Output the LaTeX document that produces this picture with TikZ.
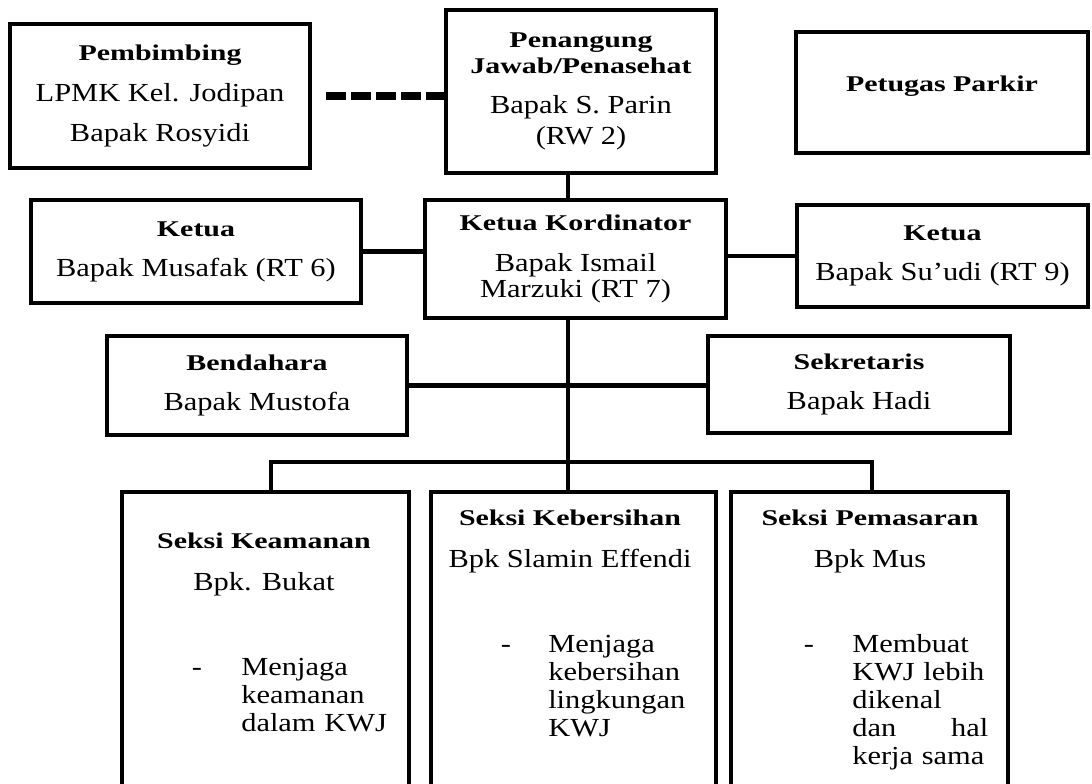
\documentclass[tikz,border=0pt]{standalone}
\usepackage{fontspec}
\setmainfont{Liberation Serif}[FakeStretch=1.17]
\newfontfamily\hdfont{Liberation Serif}[FakeStretch=1.33]
\newcommand{\hd}[1]{{\hdfont\bfseries\fontsize{16}{18}\selectfont #1}}
\usetikzlibrary{positioning}

\begin{document}
\begin{tikzpicture}[x=0.025cm,y=-0.025cm,
        box/.style={draw,line width=3.3pt,inner sep=0pt,align=center,
                    font=\fontsize{18.5}{21}\selectfont},
        txt/.style={inner sep=0pt,align=left,font=\fontsize{18.5}{20}\selectfont},
        link/.style={line width=3.2pt},
        dashlink/.style={line width=5.6pt,dash pattern=on 0.5cm off 0.125cm,
                         shorten <=0.35cm}]

        \useasboundingbox (0,0) rectangle (1092,783);
        \clip (0,0) rectangle (1092,783);

        \node[box,minimum width=7.5cm,minimum height=3.6cm]     (pemb) at (160,96)
              {\hd{Pembimbing}\\[7.5pt]LPMK Kel. Jodipan\\[7.5pt]Bapak Rosyidi};
        \node[box,minimum width=6.75cm,minimum height=4.075cm]  (pj)   at (581,91.5)
              {\hd{Penangung}\\[-2.5pt]\hd{Jawab/Penasehat}\\[7pt]Bapak S. Parin\\[1pt](RW 2)};
        \node[box,minimum width=7.3cm,minimum height=3.025cm,
              text depth=12pt]                                   (park) at (942,92.5)
              {\hd{Petugas Parkir}};

        \node[box,minimum width=8.25cm,minimum height=2.575cm]  (ketL) at (196,251.5)
              {\hd{Ketua}\\[7.5pt]Bapak Musafak (RT 6)};
        \node[box,minimum width=7.525cm,minimum height=2.95cm]  (kord) at (575.5,259)
              {\hd{Ketua Kordinator}\\[8pt]Bapak Ismail\\[-2pt]Marzuki (RT 7)};
        \node[box,minimum width=7.275cm,minimum height=2.55cm]  (ketR) at (942.5,256)
              {\hd{Ketua}\\[7pt]Bapak Su’udi (RT 9)};

        \node[box,minimum width=7.5cm,minimum height=2.475cm]   (bend) at (257,385.5)
              {\hd{Bendahara}\\[7pt]Bapak Mustofa};
        \node[box,minimum width=7.55cm,minimum height=2.425cm]  (sekr) at (859,384.5)
              {\hd{Sekretaris}\\[7pt]Bapak Hadi};

        \node[box,minimum width=7.175cm,minimum height=8.2cm]   (kea)  at (265.5,656) {};
        \node[box,minimum width=7.125cm,minimum height=8.2cm]   (keb)  at (573.5,656) {};
        \node[box,minimum width=6.925cm,minimum height=8.2cm]   (pem)  at (869.5,656) {};

        \node[txt,anchor=base]       (keaH) at (264,548) {\hd{Seksi Keamanan}};
        \node[txt,anchor=base]       (keaN) at (264,590) {Bpk. Bukat};
        \node[txt,anchor=base]       (keaD) at (197,675) {-};
        \node[txt,anchor=base west,text width=4cm]
                                     (keaL) at (241,675) {Menjaga\\keamanan\\dalam KWJ};

        \node[txt,anchor=base]       (kebH) at (570,525) {\hd{Seksi Kebersihan}};
        \node[txt,anchor=base]       (kebN) at (570,567) {Bpk Slamin Effendi};
        \node[txt,anchor=base]       (kebD) at (506,652) {-};
        \node[txt,anchor=base west,text width=4cm]
                                     (kebL) at (548,652) {Menjaga\\kebersihan\\lingkungan\\KWJ};

        \node[txt,anchor=base]       (pemH) at (870,525) {\hd{Seksi Pemasaran}};
        \node[txt,anchor=base]       (pemN) at (870,567) {Bpk Mus};
        \node[txt,anchor=base]       (pemD) at (809,652) {-};
        \node[txt,anchor=base west,text width=3.4cm]
                                     (pemL) at (852,652) {Membuat\\KWJ lebih\\dikenal\\dan\hfill hal\\kerja sama};

        \coordinate (busL) at (271,462);
        \coordinate (busM) at (568,462);
        \coordinate (busR) at (872,462);

        \draw[dashlink] (pemb.east) -- (pemb.east -| pj.west);
        \draw[link] (pj.south -| busM)   -- (kord.north -| busM);
        \draw[link] (ketL.east)          -- (ketL.east -| kord.west);
        \draw[link] (ketR.west -| kord.east) -- (ketR.west);
        \draw[link] (bend.east)          -- (bend.east -| sekr.west);
        \draw[link] (kord.south -| busM) -- (keb.north -| busM);
        \draw[link] (kea.north -| busL)  -- (busL) -- (busR) -- (pem.north -| busR);
\end{tikzpicture}
\end{document}
